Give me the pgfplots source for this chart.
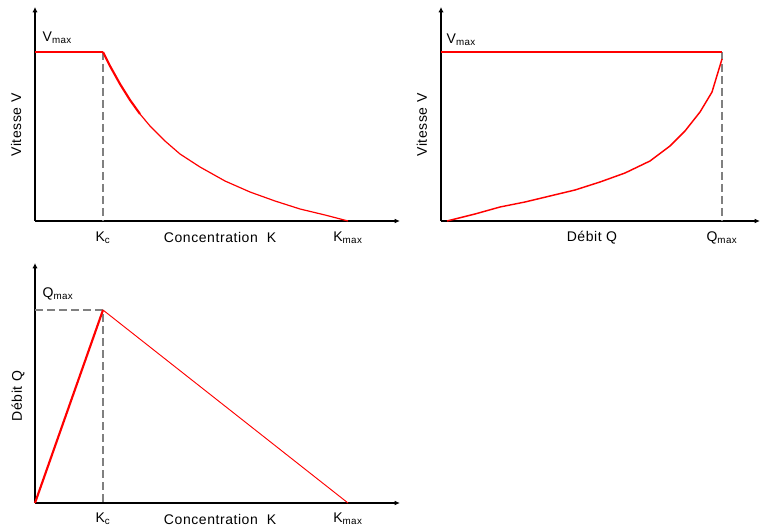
\documentclass[border=0pt]{standalone}
\usepackage{fontspec}
\setmainfont{Liberation Sans}
\newfontfamily\labfont[LetterSpace=4]{Liberation Sans}
\usepackage{pgfplots}
\pgfplotsset{compat=1.18}
\usetikzlibrary{arrows.meta}
\definecolor{rred}{RGB}{255,0,0}
\definecolor{dgray}{RGB}{128,128,128}
\newcommand{\lab}{\labfont\fontsize{10.5}{12}\selectfont}
\pgfplotsset{
 panel/.style={
  x=0.75pt, y=0.75pt, anchor=south west, scale only axis,
  axis x line=bottom, axis y line=left,
  x axis line style={line width=0.8pt, -{Latex[length=4pt,width=3.5pt]}},
  y axis line style={line width=1.6pt, -{Latex[length=4pt,width=4pt]}},
  ytick=\empty,
  major tick length=0pt,
  xticklabel style={anchor=center, font=\lab},
  label style={font=\lab, anchor=center},
  no markers,
  clip=false,
 }
}
\begin{document}
\begin{tikzpicture}
\useasboundingbox (0,0) rectangle (572.25pt,396.75pt);
% Panel 1: V vs K
\begin{axis}[panel, at={(26.25pt,231pt)},
  xmin=35, xmax=400, ymin=308, ymax=522,
  xtick={103,348}, xticklabels={K\textsubscript{c}, K\textsubscript{max}},
  xticklabel style={yshift=-12.75pt},
  xlabel={Concentration\ \ K},
  xlabel style={at={(axis description cs:0.507,-0.079)}},
  ylabel={Vitesse V},
  ylabel style={at={(axis description cs:-0.052,0.449)}, rotate=0},
]
\addplot[dgray, dashed, line width=1.2pt, dash pattern=on 6pt off 3pt] coordinates {(103,477) (103,308)};
\addplot[rred, line width=1.1pt] coordinates {(35,477) (103,477)};
\addplot[rred, line width=1.6pt] coordinates {(103,477) (110,463) (120,445) (130,429) (140,415)};
\addplot[rred, line width=0.9pt] coordinates {(140,415) (150,403) (165,388) (180,375) (200,362) (225,348) (250,337) (275,328) (300,320) (325,314) (348,308)};
\node[anchor=west, font=\lab] at (axis cs:38,491) {V\textsubscript{max}};
\end{axis}
% Panel 2: V vs Q
\begin{axis}[panel, at={(330.75pt,231pt)},
  xmin=441, xmax=760, ymin=308, ymax=522,
  xtick={722}, xticklabels={Q\textsubscript{max}},
  xticklabel style={yshift=-12.75pt},
  xlabel={D\'ebit Q},
  xlabel style={at={(axis description cs:0.473,-0.079)}},
  ylabel={Vitesse V},
  ylabel style={at={(axis description cs:-0.0596,0.449)}},
]
\addplot[dgray, dashed, line width=1.2pt, dash pattern=on 6pt off 3pt] coordinates {(722,477) (722,308)};
\addplot[rred, line width=1.1pt] coordinates {(441,477) (722,477)};
\addplot[rred, line width=1.1pt] coordinates {(447,308) (475,315) (500,322) (525,327) (550,333) (575,339) (600,347) (625,356) (650,368) (670,383) (685,398) (700,417) (712,437) (722,470)};
\node[anchor=west, font=\lab] at (axis cs:442,489) {V\textsubscript{max}};
\end{axis}
% Panel 3: Q vs K
\begin{axis}[panel, at={(26.25pt,19.5pt)},
  xmin=35, xmax=400, ymin=26, ymax=266,
  xtick={103,348}, xticklabels={K\textsubscript{c}, K\textsubscript{max}},
  xticklabel style={yshift=-12pt},
  xlabel={Concentration\ \ K},
  xlabel style={at={(axis description cs:0.507,-0.067)}},
  ylabel={D\'ebit Q},
  ylabel style={at={(axis description cs:-0.0466,0.446)}},
]
\addplot[dgray, dashed, line width=1.2pt, dash pattern=on 6pt off 3pt] coordinates {(35,219) (103,219) (103,26)};
\addplot[rred, line width=1.6pt] coordinates {(35,26) (103,219)};
\addplot[rred, line width=0.7pt] coordinates {(103,219) (348,26)};
\node[anchor=west, font=\lab] at (axis cs:38,235) {Q\textsubscript{max}};
\end{axis}
\end{tikzpicture}
\end{document}
